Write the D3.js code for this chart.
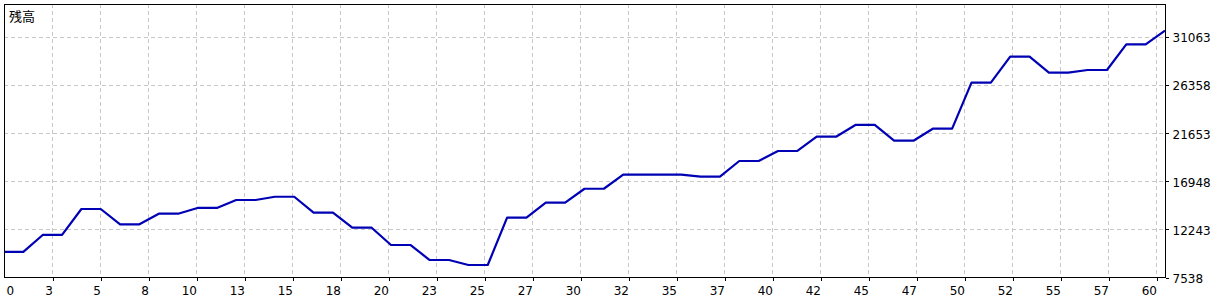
<!DOCTYPE html>
<html>
<head>
<meta charset="utf-8">
<script src="https://cdn.jsdelivr.net/npm/d3@7"></script>
<style>
  body { margin: 0; background: #fff; }
  svg { display: block; }
  .tick text { font-family: "DejaVu Sans", sans-serif; font-size: 12px; fill: #000; }
</style>
</head>
<body>
<script>
// DATA
// balance after each deal (deal number = index)
var balance = [
  10000, 10000, 11650, 11650, 14190, 14190, 12690, 12690, 13730, 13730,
  14290, 14290, 15070, 15070, 15390, 15390, 13830, 13830, 12360, 12360,
  10670, 10670, 9200, 9200, 8710, 8710, 13340, 13340, 14810, 14810,
  16170, 16170, 17545, 17545, 17545, 17545, 17350, 17350, 18885, 18885,
  19865, 19865, 21260, 21260, 22410, 22410, 20870, 20870, 22045, 22045,
  26545, 26545, 29090, 29090, 27525, 27525, 27785, 27785, 30300, 30300,
  31630
];
var xTickLabels = [0, 3, 5, 8, 10, 13, 15, 18, 20, 23, 25, 27, 30, 32, 35, 37, 40, 42, 45, 47, 50, 52, 55, 57, 60];
var yTickValues = [7538, 12243, 16948, 21653, 26358, 31063];
var title = '残高';

// LAYOUT
var svgWidth = 1230, svgHeight = 300;
var plotLeft = 4, plotRight = 1165, plotTop = 4, plotBottom = 277;
var gridRight = 1156; // last vertical grid line
var topTickY = 36.5;  // where the highest y tick sits

var svg = d3.select('body').append('svg')
  .attr('width', svgWidth)
  .attr('height', svgHeight);

// scales
var x = d3.scaleLinear().domain([0, balance.length - 1]).range([plotLeft, plotRight]);
var xTicks = d3.scalePoint().domain(xTickLabels).range([plotLeft, gridRight]);
var yFirst = yTickValues[0], yLast = yTickValues[yTickValues.length - 1];
var yMax = yFirst + (yLast - yFirst) * (plotBottom - plotTop) / (plotBottom - topTickY);
var y = d3.scaleLinear().domain([yFirst, yMax]).range([plotBottom, plotTop]);

// grid
var grid = svg.append('g')
  .attr('stroke', '#c8c8c8')
  .attr('stroke-dasharray', '4,3')
  .attr('shape-rendering', 'crispEdges');

grid.selectAll('line.h')
  .data(yTickValues.slice(1))
  .enter()
  .append('line')
  .attr('class', 'h')
  .attr('x1', plotLeft)
  .attr('x2', plotRight)
  .attr('y1', function(d) { return Math.round(y(d)) + 0.5; })
  .attr('y2', function(d) { return Math.round(y(d)) + 0.5; });

grid.selectAll('line.v')
  .data(xTickLabels.slice(1))
  .enter()
  .append('line')
  .attr('class', 'v')
  .attr('x1', function(d) { return Math.round(xTicks(d)) + 0.5; })
  .attr('x2', function(d) { return Math.round(xTicks(d)) + 0.5; })
  .attr('y1', plotTop)
  .attr('y2', plotBottom);

// balance line
var line = d3.line()
  .x(function(d, i) { return x(i); })
  .y(function(d) { return y(d); });

svg.append('path')
  .datum(balance)
  .attr('d', line)
  .attr('fill', 'none')
  .attr('stroke', '#0000b4')
  .attr('stroke-width', 2.2)
  .attr('stroke-linejoin', 'round');

// frame
svg.append('path')
  .attr('d', 'M' + (plotLeft + 0.5) + ',' + (plotBottom + 0.5) + 'V' + (plotTop + 0.5) +
    'H' + (plotRight + 0.5) + 'V' + (plotBottom + 0.5) + 'Z')
  .attr('fill', 'none')
  .attr('stroke', '#000')
  .attr('shape-rendering', 'crispEdges');

// x axis
var xAxis = svg.append('g')
  .attr('transform', 'translate(0.5,' + (plotBottom + 0.5) + ')')
  .call(d3.axisBottom(xTicks).tickSize(3).tickPadding(5.5));
xAxis.select('.domain').remove();
xAxis.selectAll('.tick line')
  .attr('stroke', function(d, i) { return i === 0 ? 'none' : '#000'; }) // no tick under the left edge
  .attr('shape-rendering', 'crispEdges');
xAxis.selectAll('.tick text')
  .attr('text-anchor', function(d, i) { return i === 0 ? 'start' : 'end'; })
  .attr('dx', function(d, i) { return i === 0 ? 1.5 : 0; });
xAxis.attr('font-family', null).attr('font-size', null);

// y axis
var yAxis = svg.append('g')
  .attr('transform', 'translate(' + (plotRight + 0.5) + ',0.5)')
  .call(d3.axisRight(y).tickValues(yTickValues).tickFormat(d3.format('d')).tickSize(3).tickPadding(4));
yAxis.select('.domain').remove();
yAxis.selectAll('.tick line').attr('stroke', '#000').attr('shape-rendering', 'crispEdges');
yAxis.selectAll('.tick text').attr('dy', '0.4em');
yAxis.attr('font-family', null).attr('font-size', null);

// title
svg.append('text')
  .attr('x', 9)
  .attr('y', 21)
  .attr('font-family', '"Noto Sans CJK JP", sans-serif')
  .attr('font-size', 13)
  .attr('fill', '#000')
  .text(title);
</script>
</body>
</html>
